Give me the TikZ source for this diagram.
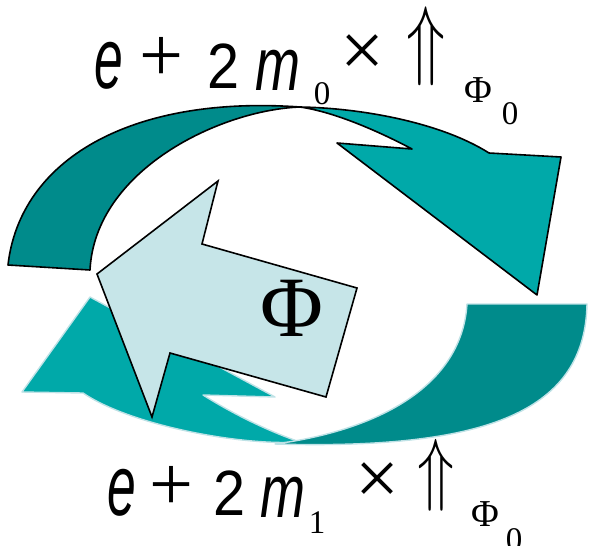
\documentclass[tikz,border=0pt]{standalone}
\usepackage{fix-cm}
\usepackage{fontspec}
\setmainfont{Liberation Sans}
\newfontfamily\timesfont{Liberation Serif}
\usepackage{tikz}

\definecolor{tealdark}{HTML}{008B8B}
\definecolor{teallight}{HTML}{00A9A9}
\definecolor{phifill}{HTML}{C6E5E8}
\definecolor{tealrim}{HTML}{BFE2E6}

\begin{document}
\begin{tikzpicture}[
    x=1pt, y=-1pt,
    topband/.style={draw=black, line width=1.6pt, line join=round},
    botband/.style={draw=tealrim, line width=1.4pt, line join=round},
    phiarrow/.style={fill=phifill, draw=black, line width=1.6pt, line join=miter},
    glyph/.style={inner sep=0pt, outer sep=0pt},
    evar/.style={glyph, font=\fontsize{86}{86}\selectfont\itshape},
    mvar/.style={glyph, font=\fontsize{75}{75}\selectfont\itshape},
    numeral/.style={glyph, font=\fontsize{64}{64}\selectfont},
    opsym/.style={glyph, font=\timesfont\fontsize{78}{78}\selectfont},
    uparr/.style={glyph, font=\fontsize{89}{89}\selectfont},
    idx/.style={glyph, font=\timesfont\fontsize{33}{33}\selectfont},
    phiidx/.style={glyph, font=\timesfont\fontsize{38}{38}\selectfont},
    phibig/.style={glyph, font=\timesfont\fontsize{86}{86}\selectfont}
]
\useasboundingbox (0,0) rectangle (589,546);

% upper arrow, back face then front face with head
\path[topband, fill=tealdark]
  (8,265) .. controls (20,160) and (130,95) .. (300,107)
  .. controls (220,110) and (95,170) .. (90,270) -- cycle;
\path[topband, fill=teallight]
  (300,107) .. controls (360,108) and (440,122) .. (489,153)
  -- (561,157) -- (537,295) -- (337,143) -- (412,149)
  .. controls (380,132) and (335,112) .. (300,107) -- cycle;

% lower arrow
\path[botband, fill=teallight]
  (90,297) -- (22,392) -- (83,393)
  .. controls (130,425) and (240,446) .. (300,442)
  .. controls (265,430) and (230,412) .. (203,395)
  -- (275,397) -- cycle;
\path[botband, fill=tealdark]
  (275,444) .. controls (380,430) and (462,385) .. (467,304)
  -- (587,304)
  .. controls (585,410) and (490,450) .. (275,444) -- cycle;

% centre arrow
\filldraw[phiarrow] (97,274) -- (218,181) -- (202,244) -- (357,288) -- (326,397) -- (170,353) -- (152,417) -- cycle;
\node[phibig] (phi) at (292,308) {Φ};

% upper formula
\node[evar] (etop) at (109,66) {\scalebox{0.6}[1]{e}};
\node[opsym] (plustop) at (161,59) {+};
\node[numeral] (twotop) at (224,66) {\scalebox{0.9}[1]{2}};
\node[mvar] (mtop) at (278,70) {\scalebox{0.72}[1]{m}};
\node[idx] (idxtop) at (322,94) {0};
\node[opsym] (timestop) at (362,56) {×};
\node[uparr] (uptop) at (426,46) {\scalebox{0.72}[1]{$\Uparrow$}};
\node[phiidx] (phitop) at (478,90) {Φ};
\node[idx] (phiidxtop) at (510,114) {0};

% lower formula
\node[evar] (ebot) at (122,493) {\scalebox{0.6}[1]{e}};
\node[opsym] (plusbot) at (171,488) {+};
\node[numeral] (twobot) at (230,493) {\scalebox{0.9}[1]{2}};
\node[mvar] (mbot) at (283,497) {\scalebox{0.72}[1]{m}};
\node[idx] (idxbot) at (317,523) {1};
\node[opsym] (timesbot) at (377,484) {×};
\node[uparr, font=\fontsize{81}{81}\selectfont] (upbot) at (436,475) {\scalebox{0.75}[1]{$\Uparrow$}};
\node[phiidx] (phibot) at (485,514) {Φ};
\node[idx] (phiidxbot) at (514,540) {0};
\end{tikzpicture}
\end{document}
